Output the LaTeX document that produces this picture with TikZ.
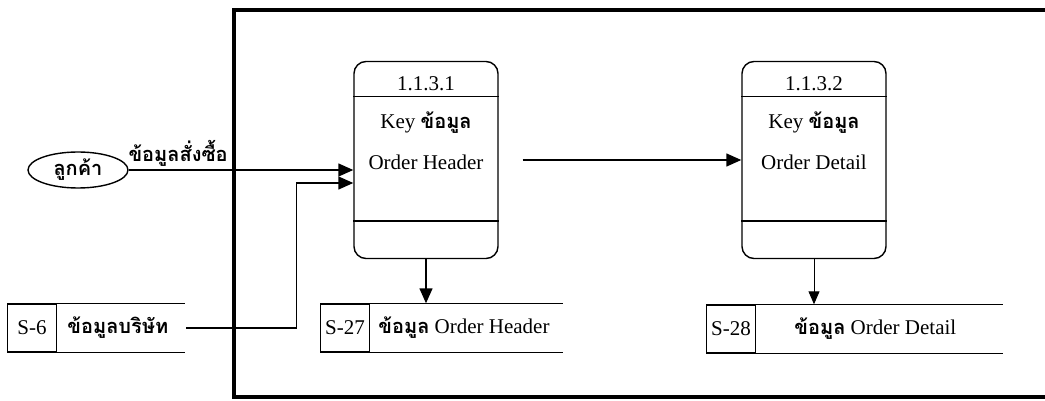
\documentclass[tikz,border=0pt]{standalone}
\usepackage{fontspec}
\setmainfont{Liberation Serif}
\newfontfamily\thaifont[Script=Thai]{Loma}
\usetikzlibrary{arrows.meta,positioning,shapes.geometric,calc}
\newcommand\thtxt[1]{{\thaifont\bfseries\fontsize{20}{24}\selectfont #1}}

\begin{document}
\begin{tikzpicture}[x=1pt,y=-1pt,
  every node/.style={font=\fontsize{21}{25}\selectfont},
  procbox/.style={draw,line width=1.4pt,rounded corners=12pt,minimum width=144pt,minimum height=197pt},
  storeid/.style={draw,line width=1.4pt,minimum width=49pt,minimum height=48pt,inner sep=0pt},
  storename/.style={inner sep=0pt},
  flow/.style={line width=1.4pt,-{Triangle[length=15pt,width=13pt]}}]
\useasboundingbox (0,0) rectangle (1045,401);
\draw[line width=4pt] (1050,10) -- (234,10) -- (234,397) -- (1050,397);

\node[draw,ellipse,line width=1.4pt,minimum width=100pt,minimum height=36pt,inner sep=0pt] (cust) at (78,170) {\thtxt{ลูกค้า}};

\node[procbox] (p1) at (426,160) {};
\draw[line width=1.4pt] ($(p1.north west)+(0,36)$) -- ($(p1.north east)+(0,36)$);
\draw[line width=1.4pt] ($(p1.south west)+(0,-38)$) -- ($(p1.south east)+(0,-38)$);
\node (p1id) at (426,84) {1.1.3.1};
\node (p1key) at (426,123) {Key \thtxt{ข้อมูล}};
\node (p1name) at (426,162) {Order Header};

\node[procbox] (p2) at (814,160) {};
\draw[line width=1.4pt] ($(p2.north west)+(0,36)$) -- ($(p2.north east)+(0,36)$);
\draw[line width=1.4pt] ($(p2.south west)+(0,-38)$) -- ($(p2.south east)+(0,-38)$);
\node (p2id) at (814,84) {1.1.3.2};
\node (p2key) at (814,123) {Key \thtxt{ข้อมูล}};
\node (p2name) at (814,162) {Order Detail};

\node[storeid] (s6) at (32,328) {S-6};
\node[storename,right=10pt of s6] (s6name) {\thtxt{ข้อมูลบริษัท}};
\draw[line width=1.4pt] (s6.north east) -- ++(128,0) (s6.south east) -- ++(128,0);
\coordinate (s6end) at ($(s6.east)+(129,0)$);

\node[storeid] (s27) at (345,328) {S-27};
\node[storename,right=8pt of s27] (s27name) {\thtxt{ข้อมูล} Order Header};
\draw[line width=1.4pt] (s27.north east) -- ++(193,0) (s27.south east) -- ++(193,0);

\node[storeid] (s28) at (731,329) {S-28};
\node[storename,right=38pt of s28] (s28name) {\thtxt{ข้อมูล} Order Detail};
\draw[line width=1.4pt] (s28.north east) -- ++(247,0) (s28.south east) -- ++(247,0);

\draw[flow] (cust.east) -- (cust.east -| p1.west) node[pos=0.22,above] {\thtxt{ข้อมูลสั่งซื้อ}};
\draw[flow] (s6end) -- ++(110,0) |- ([yshift=-23pt]p1.west);
\draw[flow,shorten <=24pt] (p1.east) -- (p2.west);
\draw[flow] (p1.south) -- (p1.south |- s27.north);
\draw[line width=1pt,-{Triangle[length=13pt,width=11pt]}] (p2.south) -- (p2.south |- s28.north);
\end{tikzpicture}
\end{document}
